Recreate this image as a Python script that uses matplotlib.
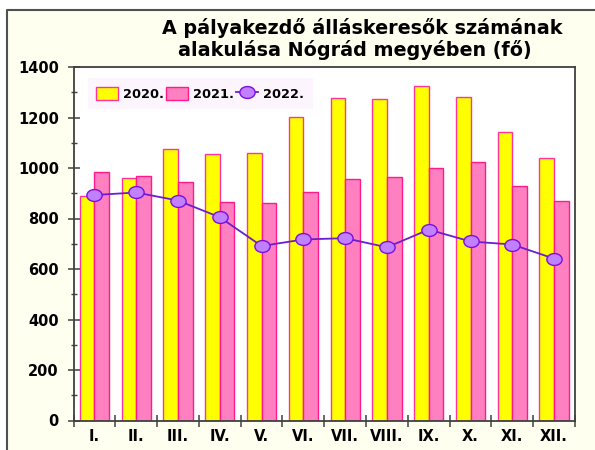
import numpy as np
import matplotlib
matplotlib.use('Agg')
import matplotlib.pyplot as plt
from matplotlib.patches import Rectangle
from matplotlib.lines import Line2D
from matplotlib.path import Path
from matplotlib.transforms import Affine2D

plt.rcParams['font.family'] = ['DejaVu Sans']

# Data
months = ['I.', 'II.', 'III.', 'IV.', 'V.', 'VI.', 'VII.', 'VIII.', 'IX.', 'X.', 'XI.', 'XII.']
y2020 = [890, 962, 1074, 1054, 1060, 1203, 1278, 1275, 1323, 1283, 1143, 1038]
y2021 = [983, 970, 946, 864, 860, 903, 957, 966, 999, 1022, 929, 871]
y2022 = [893, 903, 871, 805, 691, 717, 722, 686, 756, 709, 697, 641]
series_names = ['2020.', '2021.', '2022.']

fig = plt.figure(figsize=(5.95, 4.5), dpi=100)
fig.patch.set_facecolor('white')

# ivory chart area, dark border only on left and top
x0, y0 = 7 / 595, 1 - 10 / 450
fig.patches.append(Rectangle((x0, 0), 1 - x0, y0, transform=fig.transFigure,
                             facecolor='#FFFFF0', edgecolor='none', zorder=-10))
fig.lines.append(Line2D([x0, x0, 1], [0, y0, y0], transform=fig.transFigure,
                        color='#505050', linewidth=1.5))

ax = fig.add_axes([73.5 / 595, 1 - 420.5 / 450, (575 - 73.5) / 595, (420.5 - 67) / 450])
ax.set_facecolor('white')

x = np.arange(len(months))
w = 0.35
b1 = ax.bar(x - w / 2, y2020, w, color='#FFFF00', edgecolor='#FF3399', linewidth=1,
            label=series_names[0], zorder=2)
b2 = ax.bar(x + w / 2, y2021, w, color='#FF80C0', edgecolor='#FF1A8C', linewidth=1,
            label=series_names[1], zorder=2)

ellipse = Path.unit_circle().transformed(Affine2D().scale(1, 0.78))
ln, = ax.plot(x, y2022, color='#6A1ED0', linewidth=1.3, marker=ellipse, markersize=11,
              markerfacecolor='#C080FF', markeredgecolor='#7A10E0', markeredgewidth=1,
              label=series_names[2], zorder=3)

ax.set_xlim(-0.5, len(months) - 0.5)
ax.set_ylim(0, 1400)
ax.set_yticks(np.arange(0, 1401, 200))
ax.set_yticks(np.arange(100, 1400, 200), minor=True)
ax.set_xticks(np.arange(-0.5, len(months), 1))
ax.set_xticklabels([])
ax.set_xticks(x, minor=True)
ax.set_xticklabels(months, minor=True)

for s in ax.spines.values():
    s.set_color('#404040')
    s.set_linewidth(1.3)

ax.tick_params(axis='y', which='major', direction='inout', length=8, width=1.1,
               color='#404040', labelsize=10.5, pad=6.5)
ax.tick_params(axis='y', which='minor', direction='inout', length=5, width=1,
               color='#404040')
ax.tick_params(axis='x', which='major', direction='inout', length=9, width=1.1,
               color='#404040')
ax.tick_params(axis='x', which='minor', length=0, labelsize=10.5, pad=6)
for lab in ax.get_yticklabels() + ax.get_xticklabels(minor=True):
    lab.set_fontweight('bold')

leg = ax.legend(handles=[b1, b2, ln], loc='upper left', bbox_to_anchor=(18 / 501.5, 1 - 15 / 353.5),
                ncol=3, frameon=True, prop={'weight': 'bold', 'size': 9.3},
                handlelength=1.7, handleheight=1.25, handletextpad=0.4, columnspacing=0.15,
                borderpad=0.35, borderaxespad=0, numpoints=1)
leg.get_frame().set_facecolor('#FDF5FD')
leg.get_frame().set_edgecolor('none')
leg.get_frame().set_alpha(1)
leg.get_frame().set_boxstyle('square')

fig.text(362 / 595, 1 - 34 / 450, 'A pályakezdő álláskeresők számának',
         ha='center', va='baseline', fontsize=13.8, fontweight='bold')
fig.text(355 / 595, 1 - 56 / 450, 'alakulása Nógrád megyében (fő)',
         ha='center', va='baseline', fontsize=13.8, fontweight='bold')

fig.savefig('out.png', dpi=100, facecolor=fig.get_facecolor())
